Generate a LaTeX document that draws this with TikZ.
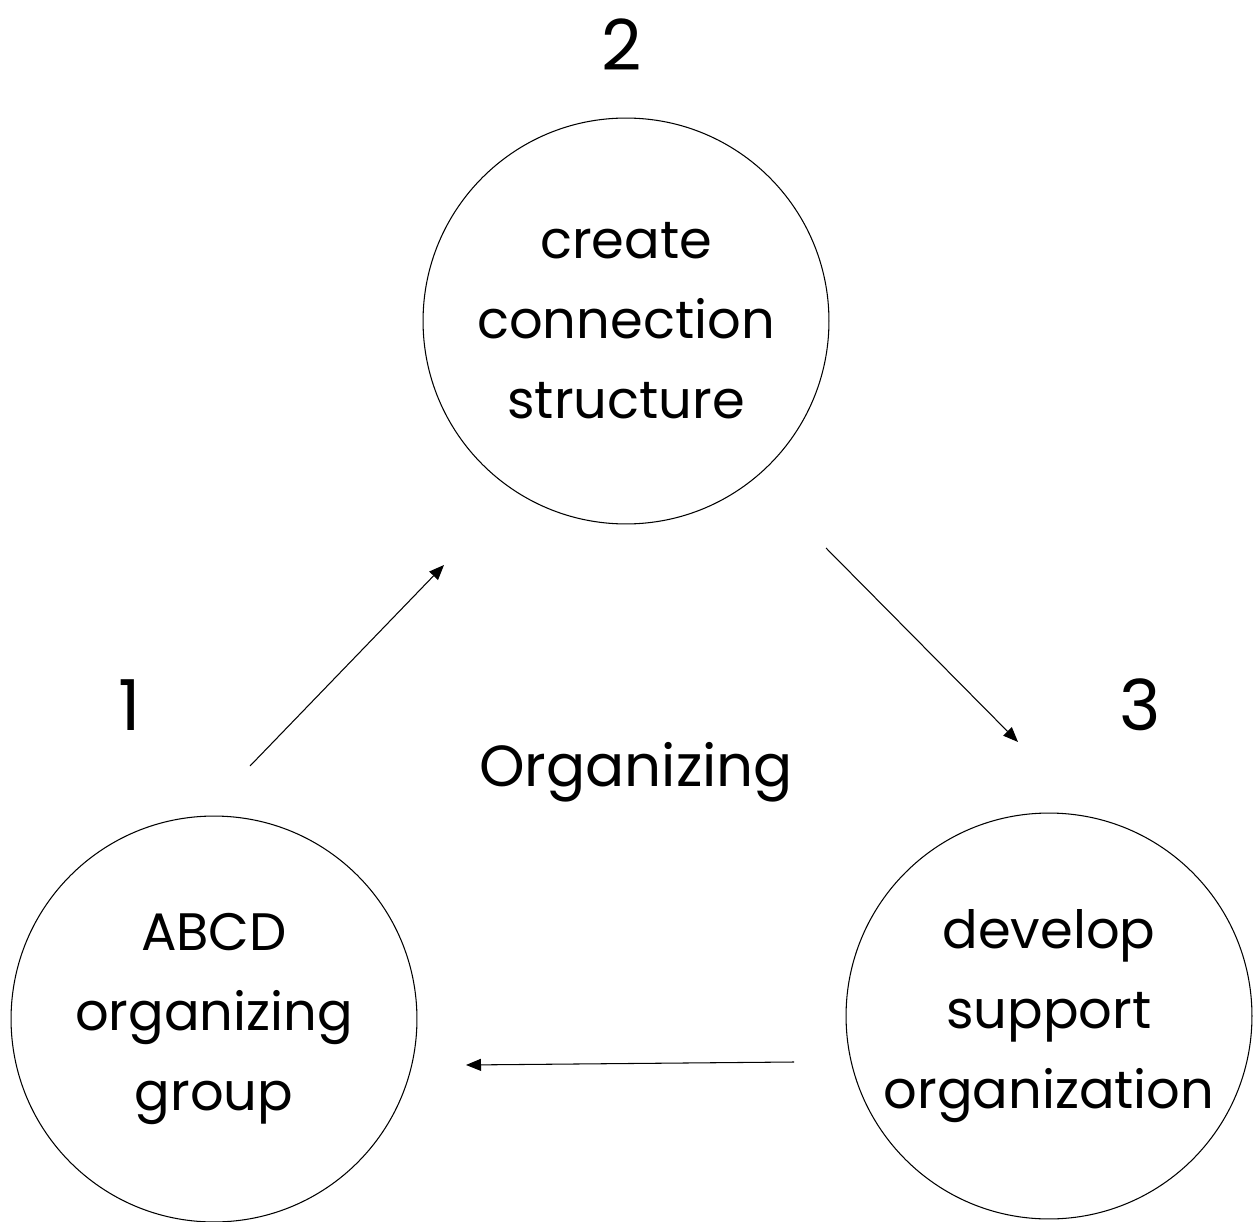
\documentclass[tikz,border=0pt]{standalone}
\usepackage{fontspec}
\setmainfont{Poppins}
\usetikzlibrary{arrows.meta}
\begin{document}
\begin{tikzpicture}[x=0.02cm,y=-0.02cm,
  stage/.style={draw,circle,line width=0.6pt,minimum size=8.12cm,inner sep=0pt,align=center,
    font=\fontsize{30}{45.5}\selectfont},
  num/.style={font=\fontsize{40}{48}\selectfont},
  flow/.style={line width=0.6pt,-{Triangle[length=0.3cm,width=0.24cm]}}]
\useasboundingbox (0,0) rectangle (1253,1222);
\node[stage] (c2) at (626,321) {create\\connection\\structure};
\node[stage] (c1) at (214,1019) {ABCD\\organizing\\group};
\node[stage] (c3) at (1049,1016) {develop\\support\\organization};
\node[num] (n2) at (622,45) {2};
\node[num] (n1) at (130,705) {1};
\node[num] (n3) at (1140,705) {3};
\node[font=\fontsize{33}{40}\selectfont] (org) at (636,772) {Organizing};
\coordinate (a1s) at (250,766);
\coordinate (a1e) at (444,565);
\coordinate (a2s) at (826,548);
\coordinate (a2e) at (1018,742);
\coordinate (a3s) at (794,1062);
\coordinate (a3e) at (466,1065);
\draw[flow] (a1s) -- (a1e);
\draw[flow] (a2s) -- (a2e);
\draw[flow] (a3s) -- (a3e);
\end{tikzpicture}
\end{document}
